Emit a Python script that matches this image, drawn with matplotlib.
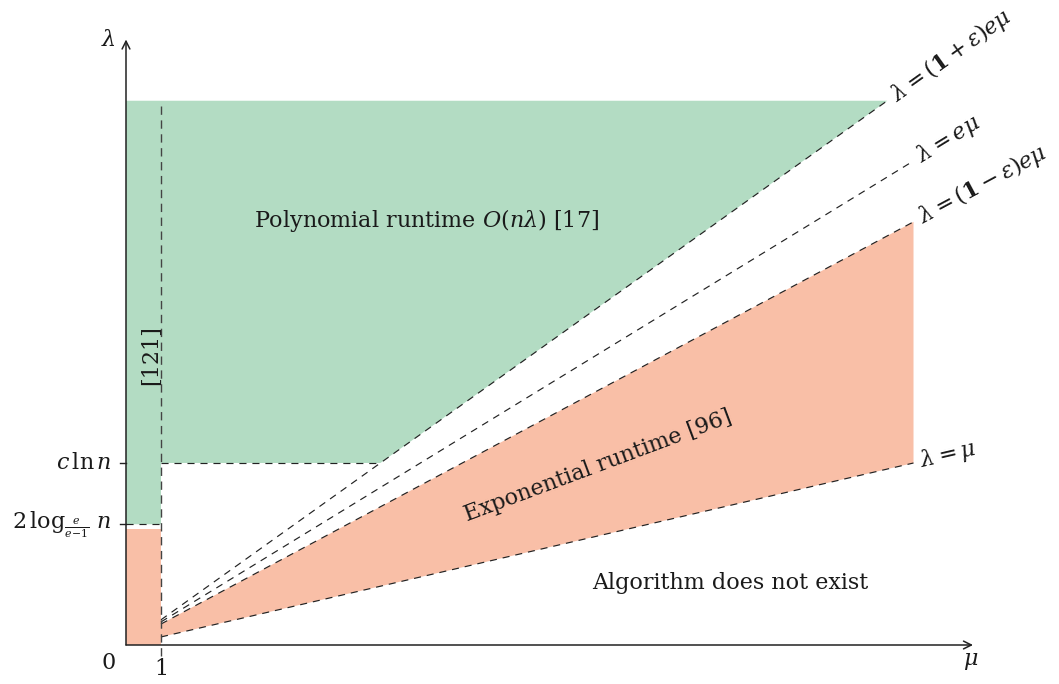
import numpy as np
import matplotlib
matplotlib.use('Agg')
import matplotlib.pyplot as plt
from matplotlib.patches import Polygon

# schematic values (mu on x, lambda on y)
mu_one = 1.0
lam_top = 15.55          # top of the green region
c_ln_n = 5.2             # c ln n
two_log = 3.45           # 2 log_{e/(e-1)} n
strip_orange_top = 3.31  # orange strip just under 2 log
mu_axis_end = 24.2
lam_axis_end = 17.3

# boundary lines: (mu start, mu end), (lambda start, lambda end)
line_plus_mu = [1.0, 21.75]
line_plus_lam = [0.72, 15.55]      # lambda = (1+eps) e mu
line_e_mu = [1.0, 22.45]
line_e_lam = [0.66, 13.8]          # lambda = e mu
line_minus_mu = [1.0, 22.5]
line_minus_lam = [0.6, 12.09]      # lambda = (1-eps) e mu
line_id_mu = [1.0, 22.5]
line_id_lam = [0.23, 5.2]          # lambda = mu

green = '#B3DCC3'
orange = '#F9BFA7'
dash_col = '#222222'

plt.rcParams['font.family'] = ['DejaVu Serif']
plt.rcParams['mathtext.fontset'] = 'dejavuserif'

fig = plt.figure(figsize=(10.59, 6.84), dpi=100)
ax = fig.add_axes([0, 0, 1, 1])
ax.set_xlim(-126 / 35, (1059 - 126) / 35)
ax.set_ylim(-(684 - 645) / 35, 645 / 35)
ax.axis('off')

# where the (1+eps)e mu line meets c ln n
slope_plus = (line_plus_lam[1] - line_plus_lam[0]) / (line_plus_mu[1] - line_plus_mu[0])
mu_kink = line_plus_mu[0] + (c_ln_n - line_plus_lam[0]) / slope_plus

# green region (polynomial runtime)
green_pts = [(0, lam_top), (line_plus_mu[1], lam_top), (mu_kink, c_ln_n),
             (mu_one, c_ln_n), (mu_one, two_log), (0, two_log)]
ax.add_patch(Polygon(green_pts, closed=True, facecolor=green, edgecolor='none'))

# orange regions (exponential runtime)
ax.add_patch(Polygon([(0, 0), (mu_one, 0), (mu_one, strip_orange_top), (0, strip_orange_top)],
                     closed=True, facecolor=orange, edgecolor='none'))
orange_pts = [(line_minus_mu[0], line_minus_lam[0]), (line_minus_mu[1], line_minus_lam[1]),
              (line_id_mu[1], line_id_lam[1]), (line_id_mu[0], line_id_lam[0])]
ax.add_patch(Polygon(orange_pts, closed=True, facecolor=orange, edgecolor='none'))

dash = dict(color=dash_col, lw=0.85, linestyle=(0, (6, 5)))
ax.plot(line_plus_mu, line_plus_lam, **dash)
ax.plot(line_e_mu, line_e_lam, **dash)
ax.plot(line_minus_mu, line_minus_lam, **dash)
ax.plot(line_id_mu, line_id_lam, **dash)
ax.plot([mu_one, mu_kink], [c_ln_n, c_ln_n], **dash)
ax.plot([0, mu_one], [two_log, two_log], **dash)
ax.plot([mu_one, mu_one], [-0.3, lam_top], color='#444444', lw=1.0, linestyle=(0, (6, 4)))

# axes with arrows
arr = dict(arrowstyle='->', lw=1.1, color='#222222', shrinkA=0, shrinkB=0, mutation_scale=14)
ax.annotate('', xy=(mu_axis_end, 0), xytext=(0, 0), arrowprops=arr)
ax.annotate('', xy=(0, lam_axis_end), xytext=(0, 0), arrowprops=arr)
for yv in [c_ln_n, two_log]:
    ax.plot([-0.18, 0], [yv, yv], color='#222222', lw=1.0)

txt = dict(color='#1a1a1a', fontsize=16)
ax.text(-0.49, 17.29, r'$\lambda$', ha='center', va='center', **txt)
ax.text(24.14, -0.46, r'$\mu$', ha='center', va='center', **txt)
ax.text(-0.51, -0.51, '0', ha='center', va='center', **txt)
ax.text(1.0, -0.69, '1', ha='center', va='center', **txt)
ax.text(-0.4, c_ln_n, r'$c\,\ln n$', ha='right', va='center', **txt)
ax.text(-0.4, two_log, r'$2\,\log_{\frac{e}{e-1}}\, n$', ha='right', va='center', **txt)


def line_label(mus, lams, s, gap=0.2):
    ang = np.degrees(np.arctan2(lams[1] - lams[0], mus[1] - mus[0]))
    r = np.radians(ang)
    ax.text(mus[1] + gap * np.cos(r), lams[1] + gap * np.sin(r), s, rotation=ang,
            rotation_mode='anchor', ha='left', va='center', color='#1a1a1a', fontsize=16)


line_label(line_plus_mu, line_plus_lam, r'$\lambda = (\mathbf{1}+\varepsilon)e\mu$')
line_label(line_e_mu, line_e_lam, r'$\lambda = e\mu$')
line_label(line_minus_mu, line_minus_lam, r'$\lambda = (\mathbf{1}-\varepsilon)e\mu$')
line_label(line_id_mu, line_id_lam, r'$\lambda = \mu$')

ax.text(8.6, 12.14, r'Polynomial runtime $O(n\lambda)$ [17]', ha='center', va='center', **txt)
ax.text(0.71, 8.29, '[121]', rotation=90, ha='center', va='center', **txt)
ax.text(13.49, 5.11, 'Exponential runtime [96]', rotation=20.5, ha='center', va='center',
        rotation_mode='anchor', **txt)
ax.text(17.26, 1.77, 'Algorithm does not exist', ha='center', va='center', **txt)

fig.savefig('out.png', dpi=100)
